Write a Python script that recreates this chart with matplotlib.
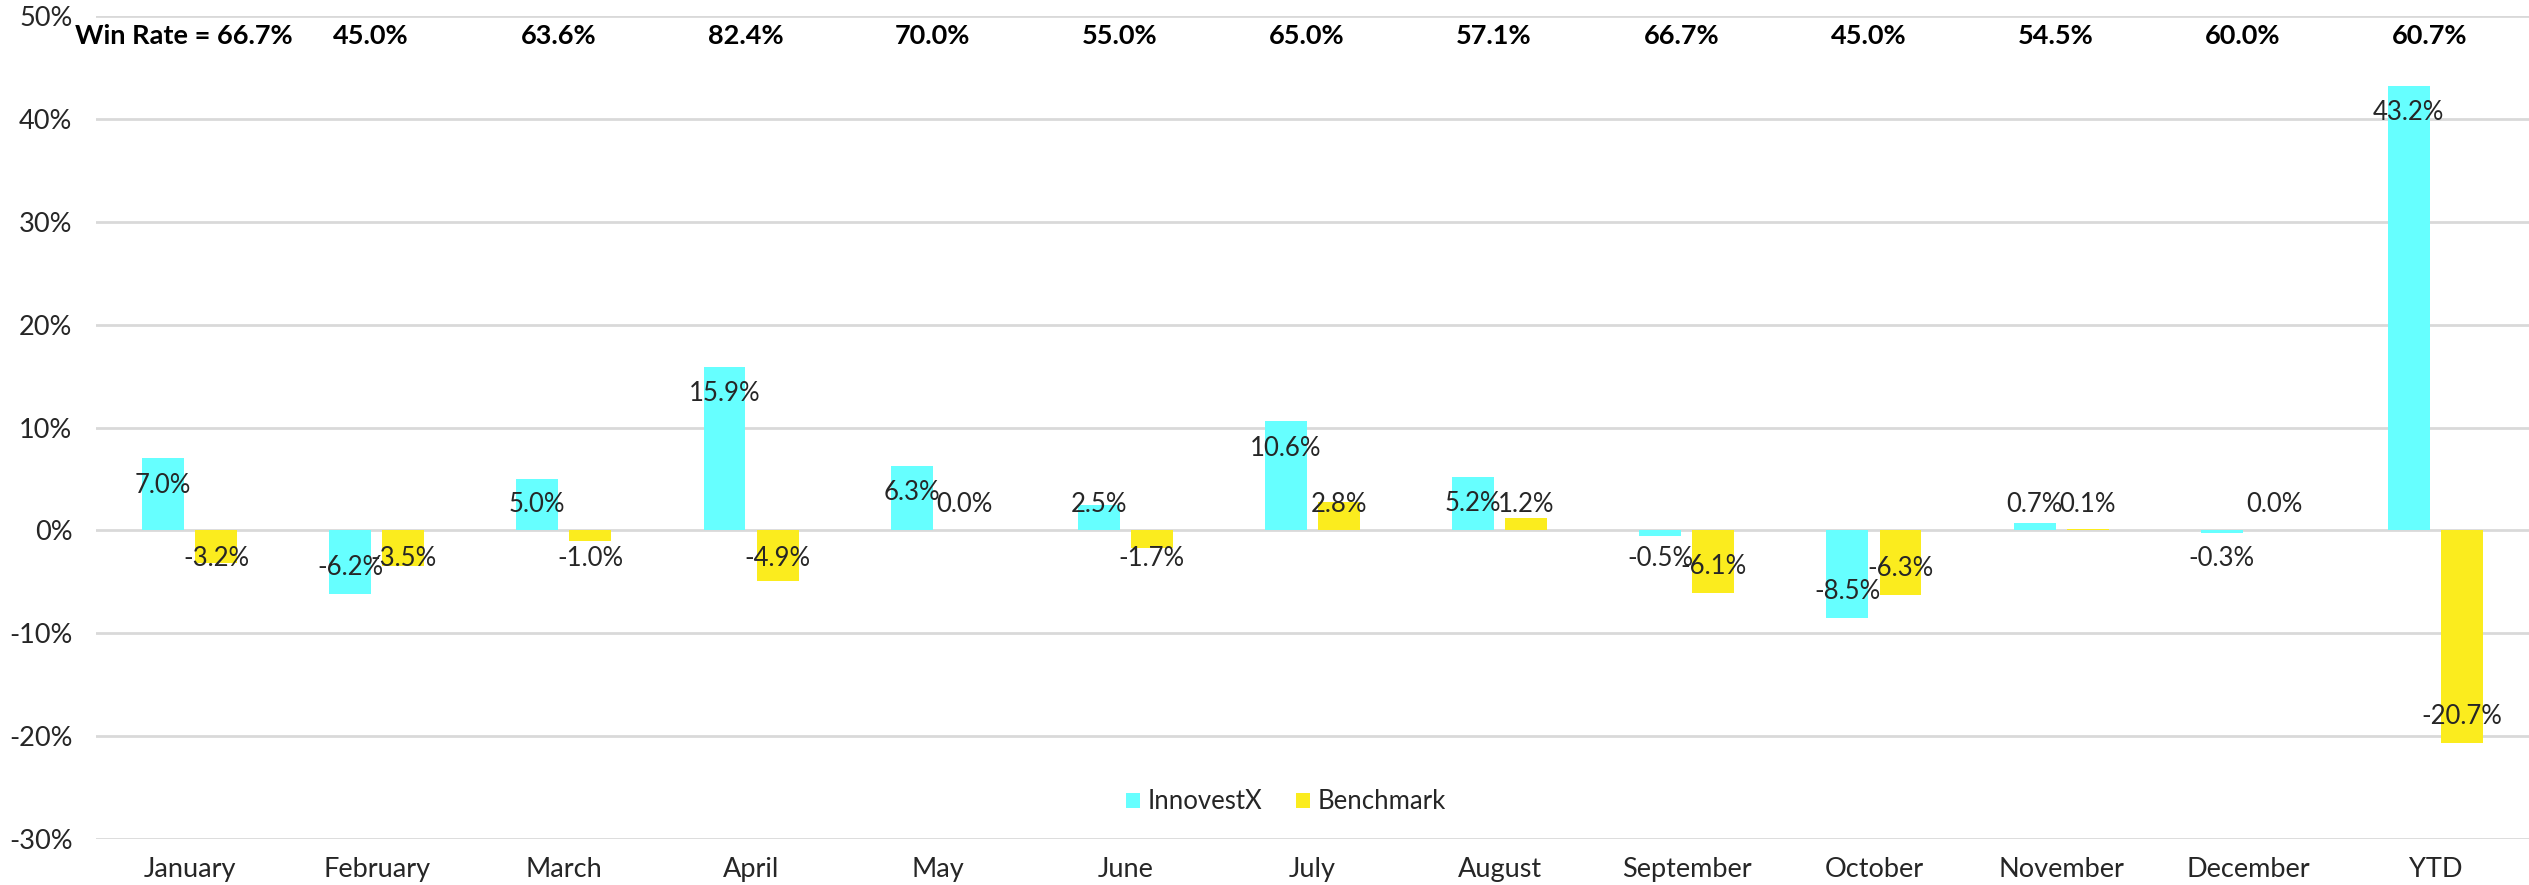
import numpy as np
import matplotlib.pyplot as plt

months = ["January", "February", "March", "April", "May", "June", "July",
          "August", "September", "October", "November", "December", "YTD"]
innovestx = [7.0, -6.2, 5.0, 15.9, 6.3, 2.5, 10.6, 5.2, -0.5, -8.5, 0.7, -0.3, 43.2]
benchmark = [-3.2, -3.5, -1.0, -4.9, 0.0, -1.7, 2.8, 1.2, -6.1, -6.3, 0.1, 0.0, -20.7]
win_rates = [66.7, 45.0, 63.6, 82.4, 70.0, 55.0, 65.0, 57.1, 66.7, 45.0, 54.5, 60.0, 60.7]

plt.rcParams['font.family'] = ['Lato', 'DejaVu Sans']

cyan = "#66FFFF"
yellow = "#FBEC1E"
text_col = "#262626"
fs = 19.5

fig = plt.figure(figsize=(25.29, 8.85), dpi=100)
ax = fig.add_axes([96 / 2529, 1 - 839 / 885, 1 - 96 / 2529, (839 - 16) / 885])

x = np.arange(len(months))
w = 0.224
off = 0.142
ax.bar(x - off, innovestx, w, color=cyan, label="InnovestX", zorder=2)
ax.bar(x + off, benchmark, w, color=yellow, label="Benchmark", zorder=2)


def label_pos(v):
    # labels sit just inside the bar end, but never closer to zero than a minimum
    if v >= 0:
        return max(v - 2.6, 2.5)
    return min(v + 2.6, -2.7)


for xs, vals in ((x - off, innovestx), (x + off, benchmark)):
    for xi, v in zip(xs, vals):
        ax.text(xi, label_pos(v), f"{v:.1f}%", ha="center", va="center",
                fontsize=18.5, color=text_col, zorder=3)

for i, r in enumerate(win_rates):
    s = f"Win Rate = {r:.1f}%" if i == 0 else f"{r:.1f}%"
    ax.text(x[i] - 0.03, 48.1, s, ha="center", va="center", fontsize=fs,
            fontweight="bold", color="black", zorder=3)

ax.set_xlim(-0.5, len(months) - 0.5)
ax.set_ylim(-30, 50)
ax.set_yticks(np.arange(-30, 51, 10))
ax.set_yticklabels([f"{t}%" for t in range(-30, 51, 10)])
ax.set_xticks(x)
ax.set_xticklabels(months)
ax.tick_params(axis="both", length=0, labelsize=fs, colors=text_col)
ax.tick_params(axis="x", pad=13)
ax.tick_params(axis="y", pad=17)
ax.grid(axis="y", color="#D9D9D9", linewidth=2)
ax.set_axisbelow(True)
for sp in ax.spines.values():
    sp.set_visible(False)

ax.legend(loc="center", bbox_to_anchor=(0.489, 0.045), ncol=2, frameon=False,
          fontsize=18.5, handlelength=0.55, handleheight=0.55, handletextpad=0.3,
          columnspacing=1.3, labelcolor=text_col)

fig.savefig("out.png", dpi=100)
